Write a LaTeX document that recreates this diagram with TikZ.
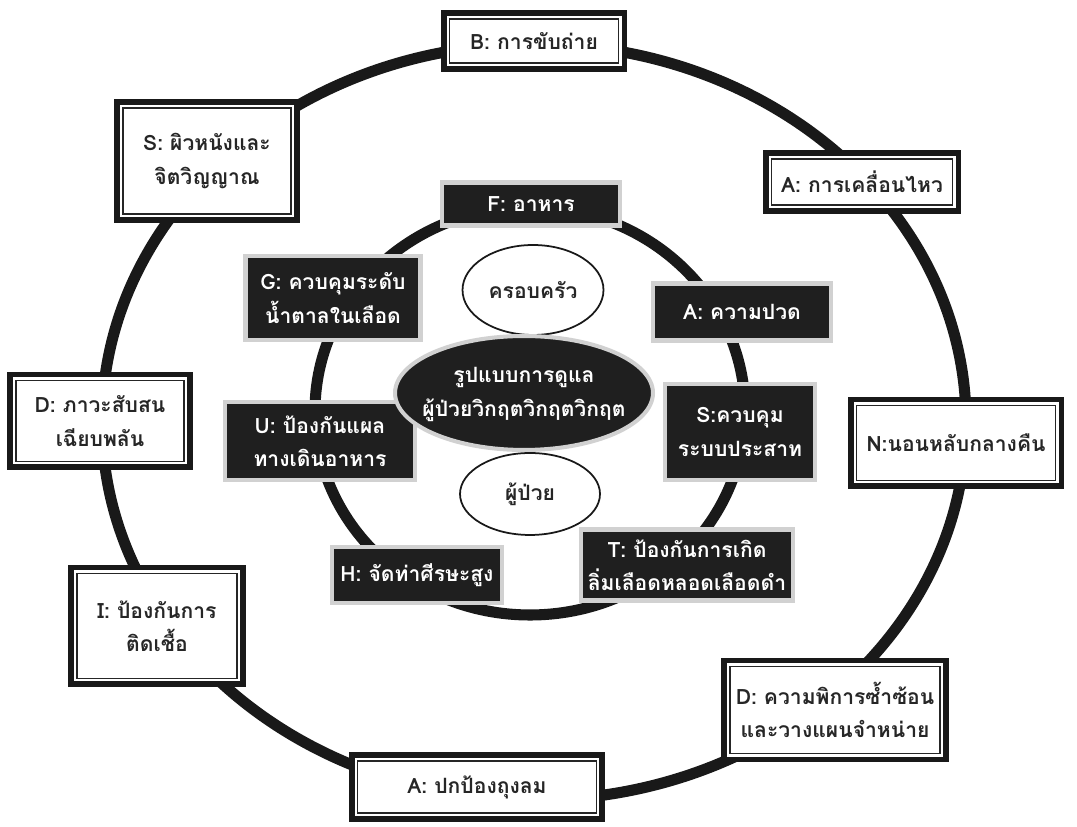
\documentclass[tikz,border=0pt]{standalone}
\usepackage{fontspec}
\setmainfont[Script=Thai, BoldFont={Loma Bold}]{Loma}
\usetikzlibrary{shapes.geometric}

\begin{document}
\begin{tikzpicture}[
  x=0.02cm, y=0.02cm,
  ring/.style={draw=black!90, line width=6.3pt},
  outbox/.style={draw=black!90, line width=3.4pt, fill=white, rectangle, inner sep=2pt, align=center,
    font=\fontsize{12}{19}\selectfont\bfseries, text=black!85,
    path picture={\draw[black!85, line width=0.85pt]
      ([shift={(0.12cm,-0.12cm)}]path picture bounding box.north west) rectangle
      ([shift={(-0.12cm,0.12cm)}]path picture bounding box.south east);}},
  inbox/.style={draw=black!18, line width=2.8pt, fill=black!88, rectangle, inner sep=2pt, align=center,
    font=\fontsize{12}{19}\selectfont\bfseries, text=white},
  bubble/.style={draw=black!90, line width=1pt, fill=white, ellipse, inner sep=0pt,
    font=\fontsize{12}{19}\selectfont\bfseries, text=black!85},
  hubnode/.style={draw=black!18, line width=2.3pt, fill=black!88, ellipse, inner sep=0pt,
    font=\fontsize{12}{19}\selectfont\bfseries, text=white}
]
\useasboundingbox (0,0) rectangle (1077,827);

% Rings
\coordinate (outerC) at (534,405);
\coordinate (innerC) at (530,416);
\draw[ring] (outerC) ellipse [x radius=432, y radius=378];
\draw[ring] (innerC) ellipse [x radius=215, y radius=204];

% Outer ring boxes
\node[outbox, minimum width=3.62cm, minimum height=1.12cm] (B)     at (534,786) {B: การขับถ่าย};
\node[outbox, minimum width=3.86cm, minimum height=1.16cm] (Amove) at (862,645) {A: การเคลื่อนไหว};
\node[outbox, minimum width=3.6cm,  minimum height=2.36cm] (Sskin) at (207,666) {S: ผิวหนังและ\\จิตวิญญาณ};
\node[outbox, minimum width=4.22cm, minimum height=1.74cm] (N)     at (956,384) {N:นอนหลับกลางคืน};
\node[outbox, minimum width=3.6cm,  minimum height=1.86cm] (Dconf) at (100,406) {D: ภาวะสับสน\\เฉียบพลัน};
\node[outbox, minimum width=3.44cm, minimum height=2.34cm] (I)     at (157,201) {I: ป้องกันการ\\ติดเชื้อ};
\node[outbox, minimum width=5.02cm, minimum height=1.28cm] (Abag)  at (477,40)  {A: ปกป้องถุงลม};
\node[outbox, minimum width=4.44cm, minimum height=1.98cm] (Dplan) at (835,117) {D: ความพิการซ้ำซ้อน\\และวางแผนจำหน่าย};

% Inner ring boxes
\node[inbox, minimum width=3.56cm, minimum height=0.86cm] (F)     at (531,623) {F: อาหาร};
\node[inbox, minimum width=3.5cm,  minimum height=1.68cm] (G)     at (333,529) {G: ควบคุมระดับ\\น้ำตาลในเลือด};
\node[inbox, minimum width=3.56cm, minimum height=1.14cm] (Apain) at (742,515) {A: ความปวด};
\node[inbox, minimum width=3.0cm,  minimum height=1.92cm] (Snerv) at (740,395) {S:ควบคุม\\ระบบประสาท};
\node[inbox, minimum width=3.8cm,  minimum height=1.56cm] (U)     at (320,386) {U: ป้องกันแผล\\ทางเดินอาหาร};
\node[inbox, minimum width=3.4cm,  minimum height=1.12cm] (H)     at (417,252) {H: จัดท่าศีรษะสูง};
\node[inbox, minimum width=4.24cm, minimum height=1.42cm] (T)     at (687,262) {T: ป้องกันการเกิด\\ลิ่มเลือดหลอดเลือดดำ};

% Centre
\node[bubble, minimum width=2.82cm, minimum height=1.8cm] (family)  at (533,537) {ครอบครัว};
\node[hubnode, minimum width=5.16cm, minimum height=2.28cm] (hub)   at (524,434)
  {\makebox[0pt]{\begin{tabular}{@{}c@{}}รูปแบบการดูแล\\ผู้ป่วยวิกฤตวิกฤตวิกฤต\end{tabular}}};
\node[bubble, minimum width=2.8cm, minimum height=1.64cm] (patient) at (530,333) {ผู้ป่วย};
\end{tikzpicture}
\end{document}
